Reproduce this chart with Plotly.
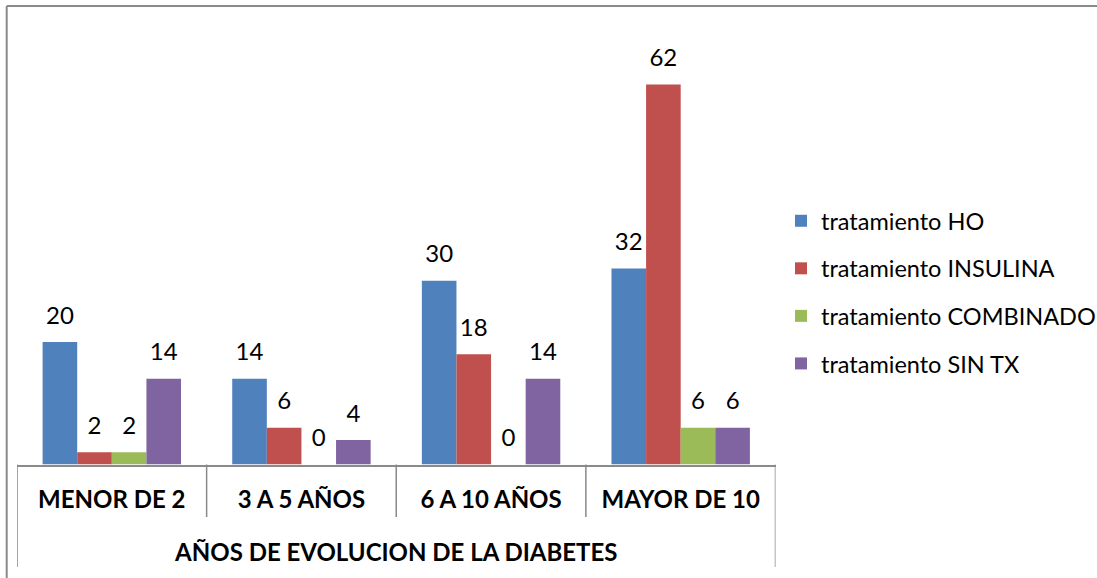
import plotly.graph_objects as go

# datos del grafico
categorias = ["MENOR DE 2", "3 A 5 AÑOS", "6 A 10 AÑOS", "MAYOR DE 10"]
series = ["tratamiento HO", "tratamiento INSULINA", "tratamiento COMBINADO", "tratamiento SIN TX"]
ho = [20, 14, 30, 32]
insulina = [2, 6, 18, 62]
combinado = [2, 0, 0, 6]
sin_tx = [14, 4, 14, 6]
titulo_eje = "AÑOS DE EVOLUCION DE LA DIABETES"

valores = [ho, insulina, combinado, sin_tx]
colores = ["#4F81BD", "#C0504D", "#9BBB59", "#8064A2"]

W, H = 1097, 578
fuente = "Lato, 'Noto Sans', sans-serif"
gris = "#8a8a8a"

fig = go.Figure()

# barras
for i in range(4):
    fig.add_trace(go.Bar(
        x=categorias, y=valores[i], name=series[i],
        marker=dict(color=colores[i], line=dict(width=0)),
        legendgroup=series[i], offsetgroup=str(i)))

# etiquetas de datos (puntos invisibles agrupados igual que las barras)
for i in range(4):
    fig.add_trace(go.Scatter(
        x=categorias, y=valores[i], mode="markers+text",
        text=[str(v) for v in valores[i]], textposition="top center",
        textfont=dict(family=fuente, size=24, color="black"),
        marker=dict(size=18, color="rgba(0,0,0,0)"),
        offsetgroup=str(i), showlegend=False, hoverinfo="skip"))

# lineas del cuadro de categorias
def py(p):
    return 1 - p / H

lineas = []
for k, xv in enumerate([-0.5, 0.5, 1.5, 2.5, 3.5]):
    y_fin = 567 if k in (0, 4) else 517
    lineas.append(dict(type="line", xref="x", yref="paper", x0=xv, x1=xv,
                       y0=py(464.5), y1=py(y_fin), line=dict(color=gris, width=1.5)))
# borde exterior del grafico
lineas.append(dict(type="line", xref="paper", yref="paper", x0=6.7 / W, x1=1.01,
                   y0=py(6), y1=py(6), line=dict(color=gris, width=2)))
lineas.append(dict(type="line", xref="paper", yref="paper", x0=6.7 / W, x1=6.7 / W,
                   y0=py(6), y1=-0.02, line=dict(color=gris, width=2)))

fig.update_layout(
    width=W, height=H,
    margin=dict(l=0, r=0, t=0, b=0, autoexpand=False),
    paper_bgcolor="white", plot_bgcolor="white",
    barmode="group", bargap=0.27, bargroupgap=0,
    scattermode="group", scattergap=0.27,
    font=dict(family=fuente, color="black"),
    xaxis=dict(domain=[17 / W, 775.5 / W], range=[-0.5, 3.5],
               showline=True, linecolor=gris, linewidth=1.5,
               ticks="", ticklabelstandoff=13, automargin=False,
               tickfont=dict(family=fuente, size=24, color="black", weight="bold"),
               title=dict(text=titulo_eje, standoff=32,
                          font=dict(family=fuente, size=24, color="black", weight="bold"))),
    yaxis=dict(domain=[py(464.5), py(35.5)], range=[0, 70], automargin=False,
               showgrid=False, zeroline=False, showline=False, showticklabels=False),
    legend=dict(x=781 / W, xanchor="left", y=py(199), yanchor="top",
                font=dict(family=fuente, size=23.5, color="black"),
                tracegroupgap=14, itemwidth=30),
    shapes=lineas,
    showlegend=True,
)

# quitar el margen del body para que la figura empiece en (0, 0)
fig.write_html("out.html", config={"displayModeBar": False},
               post_script="document.body.style.margin='0';")
